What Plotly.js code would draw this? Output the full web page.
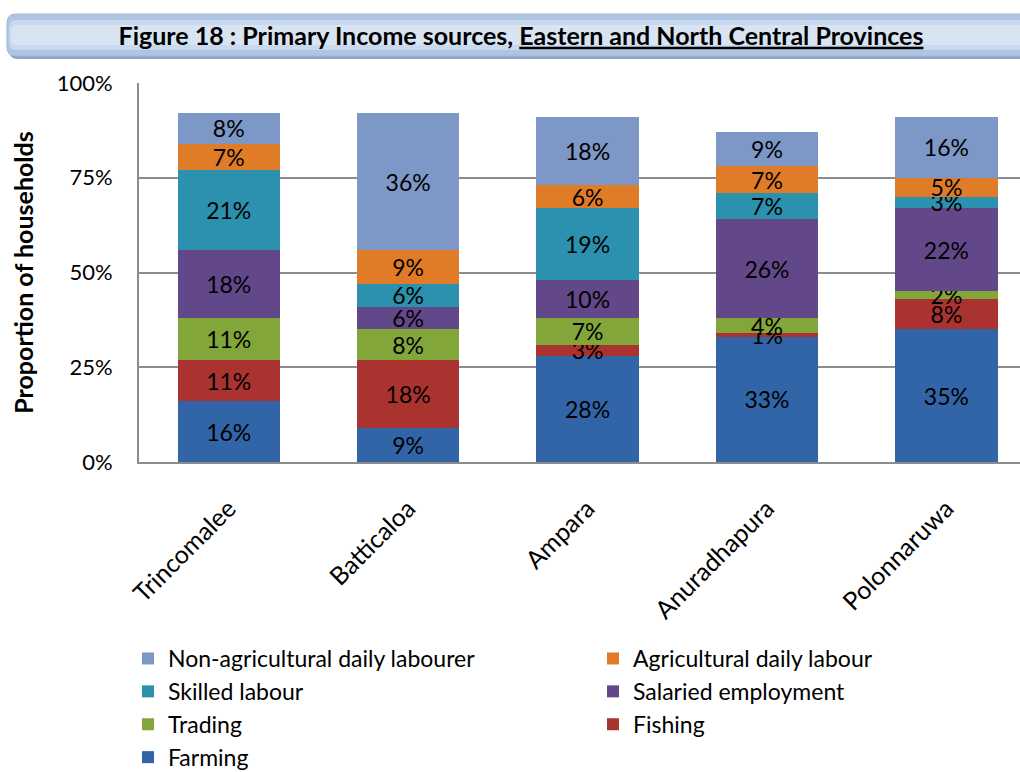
<!DOCTYPE html>
<html>
<head>
<meta charset="utf-8">
<script src="https://cdn.plot.ly/plotly-3.0.1.min.js"></script>
<style>html,body{margin:0;padding:0;background:#fff;}#chart{width:1020px;height:772px;}</style>
</head>
<body>
<div id="chart"></div>
<script>
var categories = ["Trincomalee", "Batticaloa", "Ampara", "Anuradhapura", "Polonnaruwa"];
var farming    = [16, 9, 28, 33, 35];
var fishing    = [11, 18, 3, 1, 8];
var trading    = [11, 8, 7, 4, 2];
var salaried   = [18, 6, 10, 26, 22];
var skilled    = [21, 6, 19, 7, 3];
var agriLabour = [7, 9, 6, 7, 5];
var nonAgri    = [8, 36, 18, 9, 16];
var yTickVals  = [0, 25, 50, 75, 100];
var yTickText  = ["0%", "25%", "50%", "75%", "100%"];

var FONT = "Lato, 'Open Sans', sans-serif";

var series = [
  {name: "Farming", y: farming, color: "#3165a8"},
  {name: "Fishing", y: fishing, color: "#aa3330"},
  {name: "Trading", y: trading, color: "#83a63a"},
  {name: "Salaried employment", y: salaried, color: "#634889"},
  {name: "Skilled labour", y: skilled, color: "#2b91ae"},
  {name: "Agricultural daily labour", y: agriLabour, color: "#e07c27"},
  {name: "Non-agricultural daily labourer", y: nonAgri, color: "#7d97c6"}
];

var traces = series.map(function(s){
  return {
    type: "bar",
    name: s.name,
    x: categories,
    y: s.y,
    width: 0.57,
    marker: {color: s.color, line: {width: 0}},
    text: s.y.map(function(v){ return v + "%"; }),
    textposition: "inside",
    insidetextanchor: "middle",
    textangle: 0,
    constraintext: "none",
    cliponaxis: false,
    textfont: {family: FONT, size: 23, color: "#000"},
    hoverinfo: "name+y"
  };
});

// rounded title box in paper coords
var L = 139, T = 83, W = 881, H = 379;
function px2x(p){ return (p - L) / W; }
function px2y(p){ return (T + H - p) / H; }
function roundRect(x0, y0, x1, y1, r){
  var rx = r / W, ry = r / H;
  var a = px2x(x0), b = px2x(x1), c = px2y(y1), d = px2y(y0);
  return "M" + (a+rx) + "," + d + " L" + (b-rx) + "," + d +
    " Q" + b + "," + d + " " + b + "," + (d-ry) +
    " L" + b + "," + (c+ry) + " Q" + b + "," + c + " " + (b-rx) + "," + c +
    " L" + (a+rx) + "," + c + " Q" + a + "," + c + " " + a + "," + (c+ry) +
    " L" + a + "," + (d-ry) + " Q" + a + "," + d + " " + (a+rx) + "," + d + " Z";
}

var shapes = [
  {type: "path", xref: "paper", yref: "paper", path: roundRect(9, 17, 1030, 59, 9), fillcolor: "#8fa6c4", line: {width: 0}, layer: "below"},
  {type: "path", xref: "paper", yref: "paper", path: roundRect(7, 14, 1030, 56, 9), fillcolor: "#aec4e2", line: {color: "#9fb7da", width: 1}, layer: "below"},
  {type: "path", xref: "paper", yref: "paper", path: roundRect(9, 20, 1030, 50, 7), fillcolor: "#c8d8ee", line: {width: 0}, layer: "below"},
  {type: "path", xref: "paper", yref: "paper", path: roundRect(11, 25, 1030, 45, 5), fillcolor: "#d9e4f3", line: {width: 0}, layer: "below"}
];

var layout = {
  width: 1020,
  height: 772,
  paper_bgcolor: "#ffffff",
  plot_bgcolor: "#ffffff",
  barmode: "stack",
  font: {family: FONT, size: 22, color: "#000"},
  margin: {l: 139, r: 0, t: 83, b: 310, pad: 0, autoexpand: false},
  title: {
    text: "<b>Figure 18 : Primary Income sources, <span style=\"text-decoration:underline\">Eastern and North Central Provinces</span></b>",
    font: {family: FONT, size: 25, color: "#000"},
    x: 521 / 1020, xanchor: "center",
    y: 1 - 36 / 772, yanchor: "middle", yref: "container"
  },
  xaxis: {
    type: "category",
    range: [-0.5, 4.41],
    tickangle: -45,
    showgrid: false,
    showline: true,
    linecolor: "#8c8c8c",
    linewidth: 2,
    ticks: "",
    ticklabelstandoff: 20,
    tickfont: {family: FONT, size: 25, color: "#000"},
    automargin: false,
    fixedrange: true
  },
  yaxis: {
    range: [0, 100],
    tickvals: yTickVals,
    ticktext: yTickText,
    showgrid: true,
    gridcolor: "#8c8c8c",
    gridwidth: 2,
    showline: true,
    linecolor: "#8c8c8c",
    linewidth: 2,
    zeroline: false,
    ticks: "",
    ticklabelstandoff: 20,
    tickfont: {family: FONT, size: 22, color: "#000"},
    title: {text: "<b>Proportion of households</b>", font: {family: FONT, size: 25, color: "#000"}, standoff: 16},
    automargin: false,
    fixedrange: true
  },
  showlegend: true,
  legend: {
    orientation: "h",
    traceorder: "reversed",
    x: px2x(128), xanchor: "left",
    y: px2y(637), yanchor: "top",
    entrywidth: 420,
    font: {family: FONT, size: 23, color: "#000"},
    bgcolor: "rgba(0,0,0,0)",
    itemclick: false
  },
  shapes: shapes
};

Plotly.newPlot("chart", traces, layout, {displayModeBar: false, staticPlot: true});
</script>
</body>
</html>
